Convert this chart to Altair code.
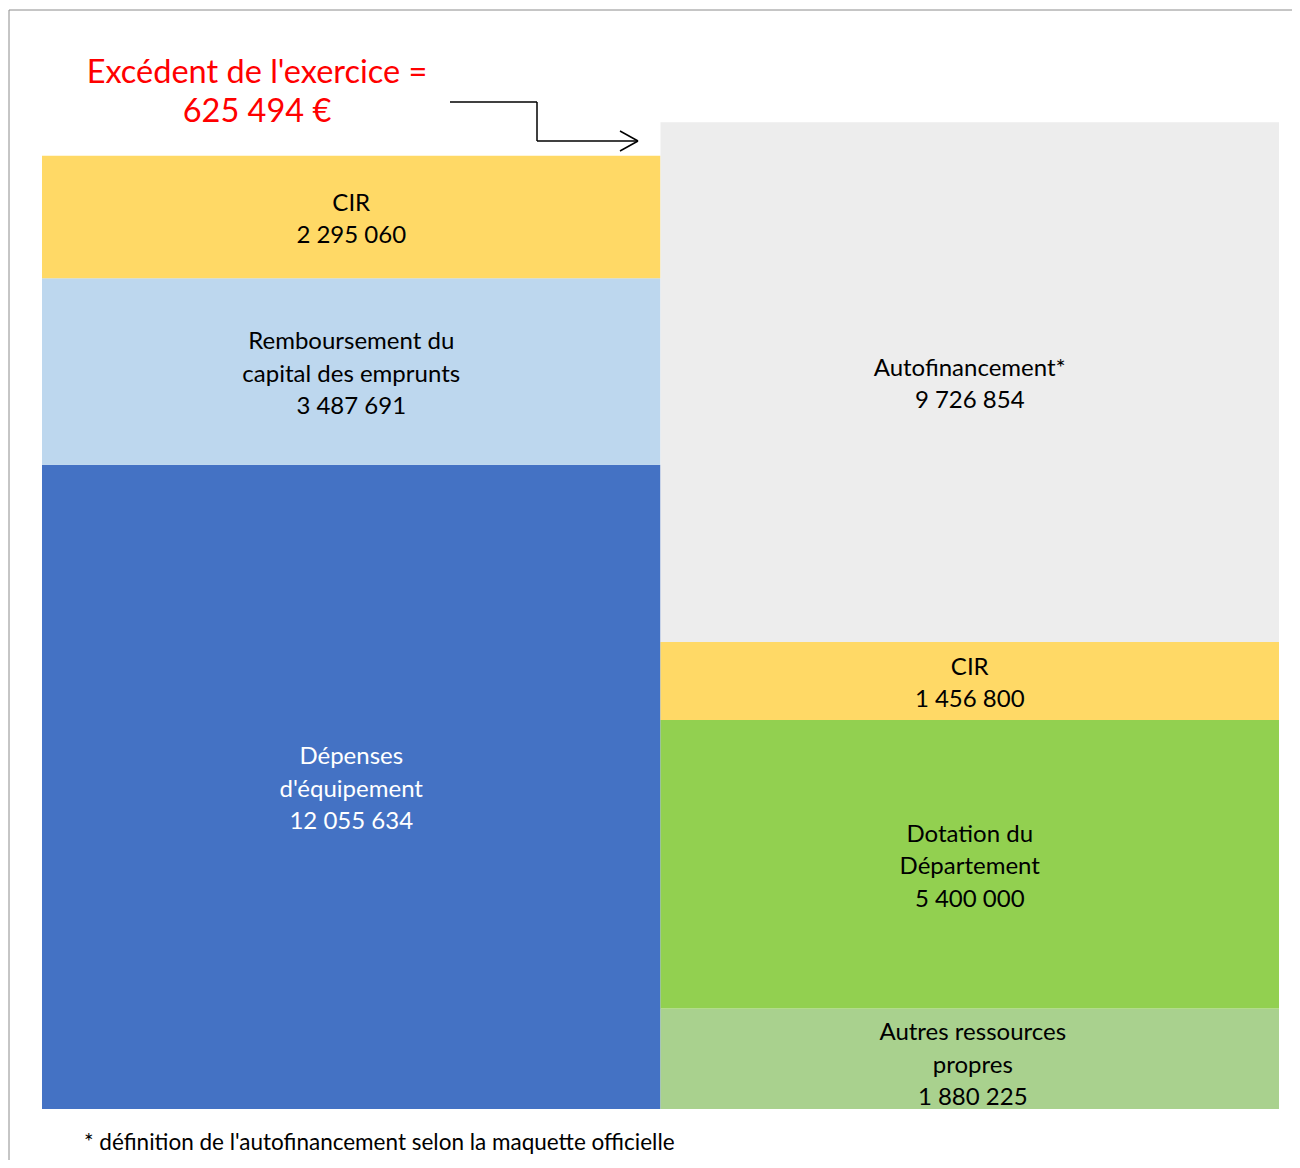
import altair as alt
import pandas as pd

# ---- data ----
columns = ["Emplois", "Ressources"]
emplois_labels = ["Dépenses\nd'équipement", "Remboursement du\ncapital des emprunts", "CIR"]
emplois_values = [12055634, 3487691, 2295060]
ressources_labels = ["Autres ressources\npropres", "Dotation du\nDépartement", "CIR", "Autofinancement*"]
ressources_values = [1880225, 5400000, 1456800, 9726854]
excedent_label = "Excédent de l'exercice =\n625 494 €"
footnote = "* définition de l'autofinancement selon la maquette officielle"

poste_domain = ["Dépenses d'équipement", "Remboursement du capital des emprunts", "CIR",
                "Autofinancement*", "Dotation du Département", "Autres ressources propres"]
poste_colors = ["#4472C4", "#BDD7EE", "#FFD966", "#EDEDED", "#92D050", "#A9D18E"]


def fmt(v):
    return f"{v:,}".replace(",", " ")


rows = []
for ci, (labels, values) in enumerate([(emplois_labels, emplois_values),
                                       (ressources_labels, ressources_values)]):
    base = 0
    for lab, v in zip(labels, values):
        txt = lab + "\n" + fmt(v)
        rows.append({
            "colonne": columns[ci],
            "x0": ci, "x1": ci + 1, "xm": ci + 0.5,
            "y0": base, "y1": base + v, "ym": base + v / 2,
            "poste": lab.replace("\n", " "),
            "texte": txt,
            "nlignes": txt.count("\n") + 1,
        })
        base += v
df = pd.DataFrame(rows)

W, H = 1284, 1152
LH = 32.5
xs = alt.Scale(domain=[-0.05497, 2.02102], nice=False, zero=False)
ys = alt.Scale(domain=[-954341, 20602545], nice=False, zero=False)

bars = alt.Chart(df).mark_rect().encode(
    x=alt.X("x0:Q", scale=xs, axis=None), x2="x1",
    y=alt.Y("y0:Q", scale=ys, axis=None), y2="y1",
    color=alt.Color("poste:N", scale=alt.Scale(domain=poste_domain, range=poste_colors), legend=None),
)

SPECIAL = "Autres ressources propres"


def label_layer(n, special=False):
    cond = (alt.datum.nlignes == n) & (alt.datum.poste == SPECIAL if special else alt.datum.poste != SPECIAL)
    return alt.Chart(df).transform_filter(cond).mark_text(
        font="Lato", fontSize=24, lineBreak="\n", lineHeight=LH, baseline="middle",
        align="center", dy=-(n - 1) * LH / 2 + (7 if special else 3), dx=(3 if special else 0)
    ).encode(
        x=alt.X("xm:Q", scale=xs, axis=None),
        y=alt.Y("ym:Q", scale=ys, axis=None),
        text="texte:N",
        color=alt.condition(alt.datum.poste == "Dépenses d'équipement",
                            alt.value("white"), alt.value("black")),
    )


one = alt.Data(values=[{"a": 1}])

frame_top = alt.Chart(one).mark_rule(color="#8c8c8c", strokeWidth=1).encode(
    x=alt.value(1), x2=alt.value(W), y=alt.value(2))
frame_left = alt.Chart(one).mark_rule(color="#8c8c8c", strokeWidth=1).encode(
    x=alt.value(1), y=alt.value(2), y2=alt.value(H))

title = alt.Chart(one).mark_text(
    font="Lato", fontSize=32.5, color="#FF0000", lineBreak="\n", lineHeight=39,
    align="center", baseline="alphabetic"
).encode(x=alt.value(249), y=alt.value(75), text=alt.value(excedent_label))

arrow_style = dict(color="black", strokeWidth=1.5)
a1 = alt.Chart(one).mark_rule(**arrow_style).encode(x=alt.value(442), x2=alt.value(529), y=alt.value(94))
a2 = alt.Chart(one).mark_rule(**arrow_style).encode(x=alt.value(529), y=alt.value(94), y2=alt.value(133))
a3 = alt.Chart(one).mark_rule(**arrow_style).encode(x=alt.value(529), x2=alt.value(630), y=alt.value(133))
a4 = alt.Chart(one).mark_rule(**arrow_style).encode(x=alt.value(612), x2=alt.value(630), y=alt.value(123), y2=alt.value(133))
a5 = alt.Chart(one).mark_rule(**arrow_style).encode(x=alt.value(612), x2=alt.value(630), y=alt.value(143), y2=alt.value(133))

foot = alt.Chart(one).mark_text(
    font="Lato", fontSize=22.5, color="black", align="left", baseline="alphabetic"
).encode(x=alt.value(76), y=alt.value(1142), text=alt.value(footnote))

chart = alt.layer(
    bars, label_layer(1), label_layer(2), label_layer(3), label_layer(3, special=True),
    frame_top, frame_left, title, a1, a2, a3, a4, a5, foot
).properties(
    width=W, height=H, padding=0, autosize=alt.AutoSizeParams(type="none")
).configure_view(stroke=None)

chart.save("out.html", embed_options={"renderer": "svg", "actions": False})
